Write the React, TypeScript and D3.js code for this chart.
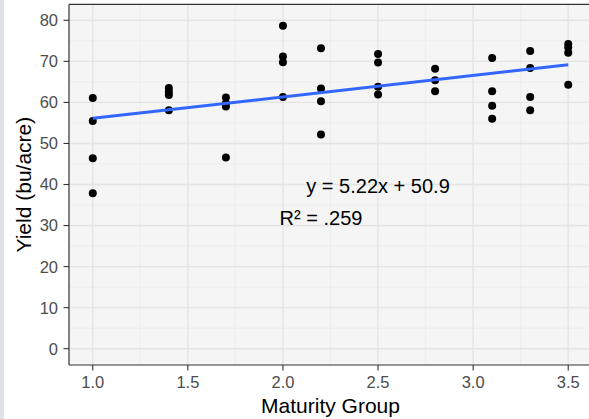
import React from "react";
import * as d3 from "d3";

const maturity: number[] = [
  1.0, 1.0, 1.0, 1.0,
  1.4, 1.4, 1.4, 1.4,
  1.7, 1.7, 1.7, 1.7,
  2.0, 2.0, 2.0, 2.0,
  2.2, 2.2, 2.2, 2.2,
  2.5, 2.5, 2.5, 2.5,
  2.8, 2.8, 2.8,
  3.1, 3.1, 3.1, 3.1,
  3.3, 3.3, 3.3, 3.3,
  3.5, 3.5, 3.5, 3.5,
];
const yieldVals: number[] = [
  61.1, 55.5, 46.4, 37.9,
  63.5, 62.6, 61.8, 58.1,
  61.2, 59.8, 59.0, 46.6,
  78.7, 71.2, 69.8, 61.3,
  73.2, 63.4, 60.3, 52.2,
  71.8, 69.7, 63.8, 61.9,
  68.2, 65.4, 62.7,
  70.8, 62.7, 59.2, 56.0,
  72.5, 68.4, 61.3, 58.1,
  74.2, 73.4, 72.1, 64.3,
];
const xTicks: number[] = [1.0, 1.5, 2.0, 2.5, 3.0, 3.5];
const yTicks: number[] = [0, 10, 20, 30, 40, 50, 60, 70, 80];
const slope = 5.22;
const intercept = 50.9;
const eqLabel = "y = 5.22x + 50.9";
const r2Label = "R\u00b2 = .259";
const xTitle = "Maturity Group";
const yTitle = "Yield (bu/acre)";

export default function App() {
  const W = 589, H = 419;
  const left = 69, right = 592, top = 4.3, bottom = 365;
  const x = d3.scaleLinear().domain([0.875, 3.625]).range([left, right]);
  const y = d3.scaleLinear().domain([-3.97, 83.9]).range([bottom, top]);
  const xMinor = d3.range(0, xTicks.length - 1).map((i) => (xTicks[i] + xTicks[i + 1]) / 2);
  const yMinor = d3.range(0, yTicks.length + 1).map((i) => -5 + i * 10).filter((v) => v > -3.97 && v < 83.9);
  const lineGen = d3.line<number>().x((d) => x(d)).y((d) => y(slope * d + intercept));
  const xExt = d3.extent(maturity) as [number, number];
  const font = "'Liberation Sans', Arial, Helvetica, sans-serif";
  return (
    <svg width={W} height={H} style={{ position: "absolute", left: 0, top: 0, background: "#fff" }} fontFamily={font}>
      <rect x={0} y={0} width={W} height={H} fill="#ffffff" />
      <rect x={0} y={0} width={4} height={H} fill="#dde3e6" />
      <rect x={left} y={top} width={right - left} height={bottom - top} fill="#f5f5f5" />
      {yMinor.map((v) => (
        <line key={"ym" + v} x1={left} x2={right} y1={y(v)} y2={y(v)} stroke="#ebebeb" strokeWidth={0.8} />
      ))}
      {xMinor.map((v) => (
        <line key={"xm" + v} x1={x(v)} x2={x(v)} y1={top} y2={bottom} stroke="#ebebeb" strokeWidth={0.8} />
      ))}
      {yTicks.map((v) => (
        <line key={"yg" + v} x1={left} x2={right} y1={y(v)} y2={y(v)} stroke="#e4e4e4" strokeWidth={1.4} />
      ))}
      {xTicks.map((v) => (
        <line key={"xg" + v} x1={x(v)} x2={x(v)} y1={top} y2={bottom} stroke="#e4e4e4" strokeWidth={1.4} />
      ))}
      {maturity.map((m, i) => (
        <circle key={"p" + i} cx={x(m)} cy={y(yieldVals[i])} r={4} fill="#000" />
      ))}
      <path d={lineGen([xExt[0], xExt[1]]) || ""} stroke="#3366ff" strokeWidth={3} fill="none" />
      <text x={x(2.5)} y={193} textAnchor="middle" fontSize={20} fill="#000">{eqLabel}</text>
      <text x={x(2.2)} y={225} textAnchor="middle" fontSize={20} fill="#000">{r2Label}</text>
      <line x1={left} x2={right} y1={top} y2={top} stroke="#333" strokeWidth={1.2} />
      <line x1={left} x2={left} y1={top} y2={bottom} stroke="#333" strokeWidth={1.2} />
      <line x1={left} x2={right} y1={bottom} y2={bottom} stroke="#333" strokeWidth={1.2} />
      {yTicks.map((v) => (
        <g key={"yt" + v}>
          <line x1={left - 5.5} x2={left} y1={y(v)} y2={y(v)} stroke="#333" strokeWidth={1.1} />
          <text x={left - 11} y={y(v)} dy="0.36em" textAnchor="end" fontSize={16.5} fill="#4d4d4d">{v}</text>
        </g>
      ))}
      {xTicks.map((v) => (
        <g key={"xt" + v}>
          <line x1={x(v)} x2={x(v)} y1={bottom} y2={bottom + 5.5} stroke="#333" strokeWidth={1.1} />
          <text x={x(v)} y={bottom + 23} textAnchor="middle" fontSize={16.5} fill="#4d4d4d">{d3.format(".1f")(v)}</text>
        </g>
      ))}
      <text x={(left + right) / 2} y={412.5} textAnchor="middle" fontSize={21} fill="#000">{xTitle}</text>
      <text transform={`translate(${31},${(top + bottom) / 2}) rotate(-90)`} textAnchor="middle" fontSize={21} fill="#000">{yTitle}</text>
    </svg>
  );
}
